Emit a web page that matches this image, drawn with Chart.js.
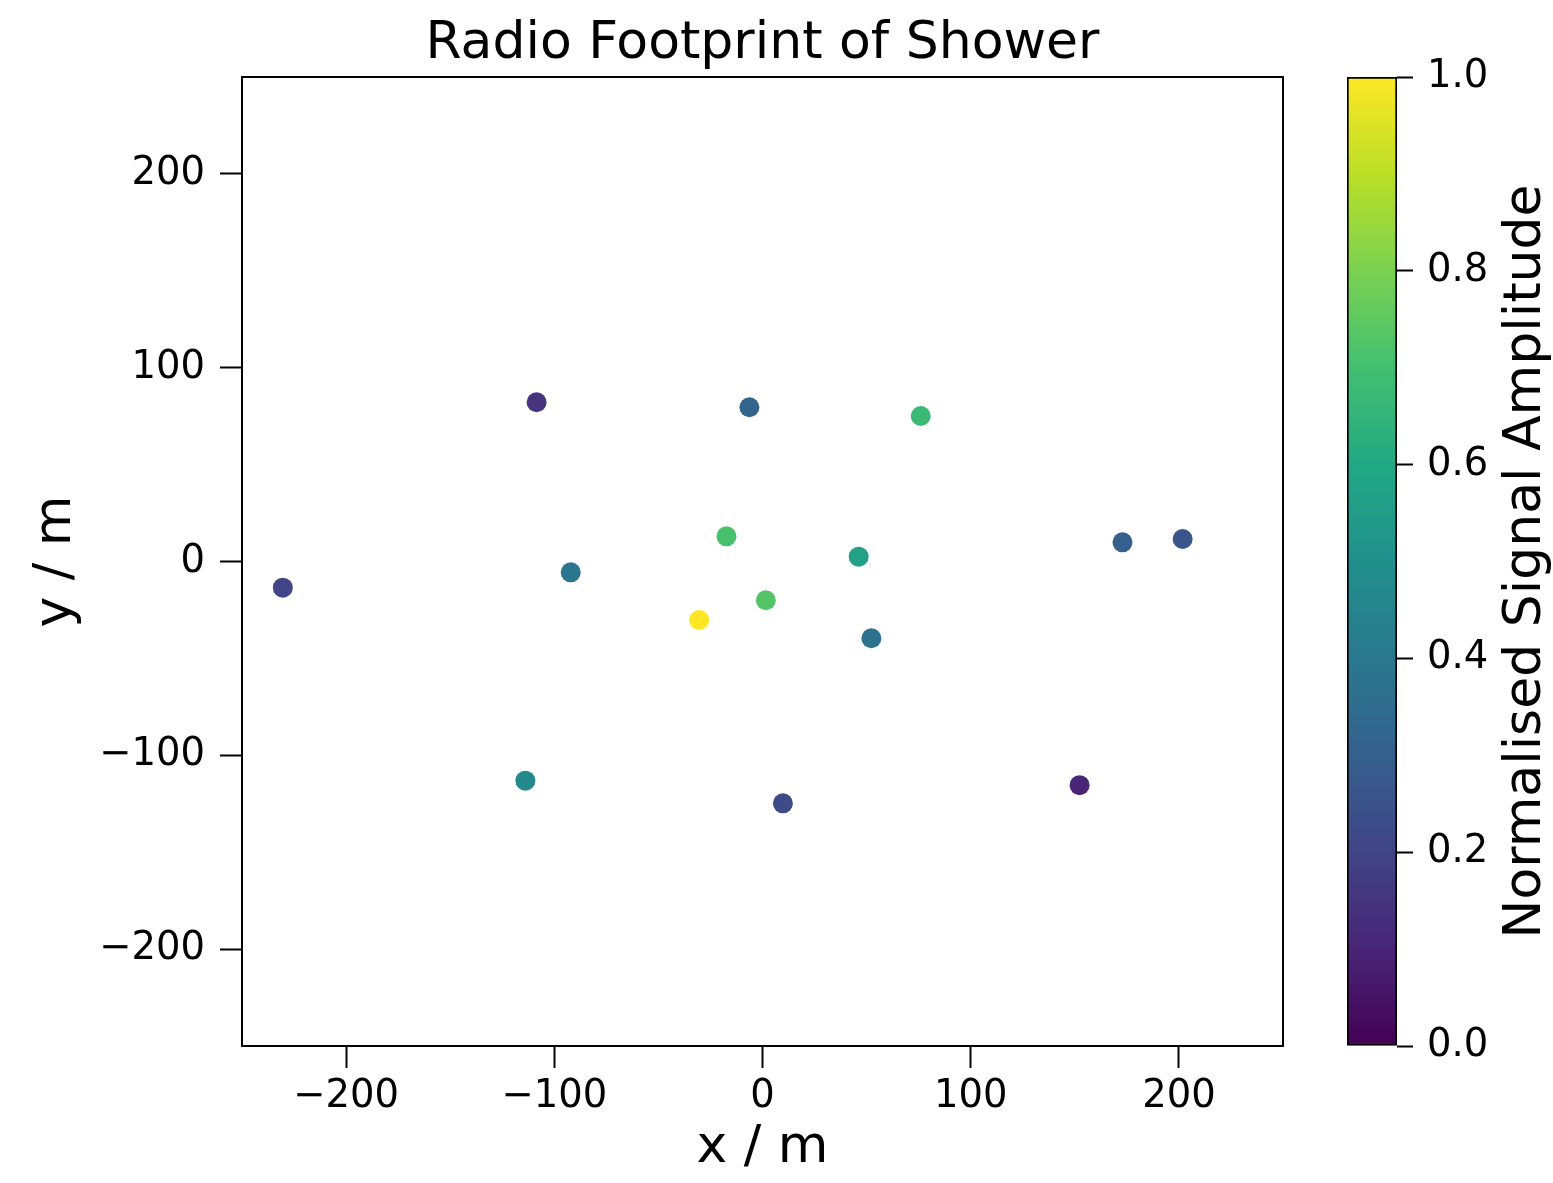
<!DOCTYPE html>
<html>
<head>
<meta charset="utf-8">
<title>Radio Footprint of Shower</title>
<script src="https://cdn.jsdelivr.net/npm/chart.js@4/dist/chart.umd.min.js"></script>
<style>
  html, body { margin: 0; padding: 0; background: #ffffff; }
  #wrap { position: relative; width: 1553px; height: 1183px; }
  #scatter { position: absolute; left: 0; top: 0; }
  #cbar { position: absolute; left: 1300px; top: 0; }
</style>
</head>
<body>
<div id="wrap">
  <canvas id="scatter" width="1300" height="1183"></canvas>
  <canvas id="cbar" width="253" height="1183"></canvas>
</div>
<script>
// Antenna positions (m) and normalised signal amplitude per antenna
const antennaX = [-230.4, -108.5, -92.1, -113.9, -6.3, -17.3, -30.4, 1.6, 9.8, 46.2, 52.3, 76.0, 152.3, 172.9, 201.8];
const antennaY = [-13.5, 82.2, -5.6, -113.1, 79.6, 13.0, -30.2, -20.0, -124.8, 2.5, -39.6, 75.1, -115.4, 9.9, 11.6];
const amplitude = [0.20, 0.15, 0.39, 0.47, 0.32, 0.71, 1.00, 0.73, 0.22, 0.57, 0.38, 0.68, 0.10, 0.30, 0.26];

// Axis tick values
const xTicks = [-200, -100, 0, 100, 200];
const yTicks = [-200, -100, 0, 100, 200];
const cbarTicks = [0, 0.2, 0.4, 0.6, 0.8, 1.0];

// Viridis colormap samples at 0.0, 0.1, ..., 1.0
const viridis = ['#440154', '#482576', '#414487', '#35608d', '#2a788e', '#21908c',
                 '#22a884', '#43bf71', '#7ad151', '#bbdf27', '#fde725'];

function hexToRgb(h) {
  return [parseInt(h.slice(1, 3), 16), parseInt(h.slice(3, 5), 16), parseInt(h.slice(5, 7), 16)];
}
function viridisColor(t) {
  t = Math.min(1, Math.max(0, t));
  const pos = t * (viridis.length - 1);
  const i = Math.min(viridis.length - 2, Math.floor(pos));
  const f = pos - i;
  const a = hexToRgb(viridis[i]), b = hexToRgb(viridis[i + 1]);
  const c = a.map((v, k) => Math.round(v + (b[k] - v) * f));
  return `rgb(${c[0]},${c[1]},${c[2]})`;
}

const FONT = "'DejaVu Sans', sans-serif";
const minus = v => String(v).replace('-', '\u2212');

// Black frame around the plotting area
const frame = {
  id: 'frame',
  beforeDatasetsDraw(chart) {
    const { ctx, chartArea: a } = chart;
    ctx.save();
    ctx.strokeStyle = '#000';
    ctx.lineWidth = 2;
    ctx.strokeRect(a.left, a.top, a.right - a.left, a.bottom - a.top);
    ctx.restore();
  }
};

const points = antennaX.map((x, i) => ({ x: x, y: antennaY[i] }));

new Chart(document.getElementById('scatter'), {
  type: 'scatter',
  data: {
    datasets: [{
      data: points,
      backgroundColor: amplitude.map(viridisColor),
      borderWidth: 0,
      pointRadius: 10,
      pointHoverRadius: 10
    }]
  },
  options: {
    responsive: false,
    animation: false,
    devicePixelRatio: 1,
    layout: { padding: { left: 0, right: 17, top: 0, bottom: 0 } },
    plugins: {
      legend: { display: false },
      tooltip: { enabled: false },
      title: {
        display: true,
        text: 'Radio Footprint of Shower',
        fullSize: false,
        color: '#000',
        font: { family: FONT, size: 52, weight: 'normal', lineHeight: 1.2 },
        padding: { top: 12.8, bottom: 1.8 }
      }
    },
    scales: {
      x: {
        type: 'linear',
        position: 'bottom',
        min: -250,
        max: 250,
        afterBuildTicks: s => { s.ticks = xTicks.map(v => ({ value: v })); },
        afterFit: s => { s.height = 137; },
        border: { display: false },
        grid: { drawOnChartArea: false, drawTicks: true, tickLength: 22, tickWidth: 2, tickColor: '#000' },
        ticks: {
          color: '#000', padding: 6, maxRotation: 0,
          font: { family: FONT, size: 38.5 },
          callback: v => minus(v)
        },
        title: {
          display: true, text: 'x / m', color: '#000',
          font: { family: FONT, size: 52, lineHeight: 1.2 },
          padding: { top: 0, bottom: 3.8 }
        }
      },
      y: {
        type: 'linear',
        position: 'left',
        min: -250,
        max: 250,
        afterBuildTicks: s => { s.ticks = yTicks.map(v => ({ value: v })); },
        afterFit: s => { s.width = 242; },
        border: { display: false },
        grid: { drawOnChartArea: false, drawTicks: true, tickLength: 22, tickWidth: 2, tickColor: '#000' },
        ticks: {
          color: '#000', padding: 15,
          font: { family: FONT, size: 38.5 },
          callback: v => minus(v)
        },
        title: {
          display: true, text: 'y / m', color: '#000',
          font: { family: FONT, size: 52, lineHeight: 1.2 },
          padding: { top: 24.8, bottom: 0 }
        }
      }
    }
  },
  plugins: [frame]
});

// Colour bar: one floating bar spanning the amplitude range, filled with the colormap
const cbarLabel = {
  id: 'cbarLabel',
  afterDraw(chart) {
    const { ctx, chartArea: a } = chart;
    ctx.save();
    ctx.fillStyle = '#000';
    ctx.font = `52px ${FONT}`;
    ctx.textAlign = 'center';
    ctx.textBaseline = 'alphabetic';
    ctx.translate(240, (a.top + a.bottom) / 2);
    ctx.rotate(-Math.PI / 2);
    ctx.fillText('Normalised Signal Amplitude', 0, 0);
    ctx.restore();
  }
};

new Chart(document.getElementById('cbar'), {
  type: 'bar',
  data: {
    labels: [''],
    datasets: [{
      data: [[cbarTicks[0], cbarTicks[cbarTicks.length - 1]]],
      backgroundColor: ctx => {
        const area = ctx.chart.chartArea;
        if (!area) return viridis[5];
        const g = ctx.chart.ctx.createLinearGradient(0, area.bottom, 0, area.top);
        viridis.forEach((c, i) => g.addColorStop(i / (viridis.length - 1), c));
        return g;
      },
      borderColor: '#000',
      borderWidth: 2,
      borderSkipped: false,
      barPercentage: 1,
      categoryPercentage: 1
    }]
  },
  options: {
    responsive: false,
    animation: false,
    devicePixelRatio: 1,
    layout: { padding: { left: 47, right: 0, top: 77, bottom: 137 } },
    plugins: { legend: { display: false }, tooltip: { enabled: false }, title: { display: false } },
    scales: {
      x: { display: false },
      y: {
        position: 'right',
        min: 0,
        max: 1,
        afterBuildTicks: s => { s.ticks = cbarTicks.map(v => ({ value: v })); },
        afterFit: s => { s.width = 156; },
        border: { display: false },
        grid: { drawOnChartArea: false, drawTicks: true, tickLength: 16, tickWidth: 2, tickColor: '#000' },
        ticks: {
          color: '#000', padding: 14,
          font: { family: FONT, size: 38.5 },
          callback: v => Number(v).toFixed(1)
        }
      }
    }
  },
  plugins: [cbarLabel]
});
</script>
</body>
</html>
